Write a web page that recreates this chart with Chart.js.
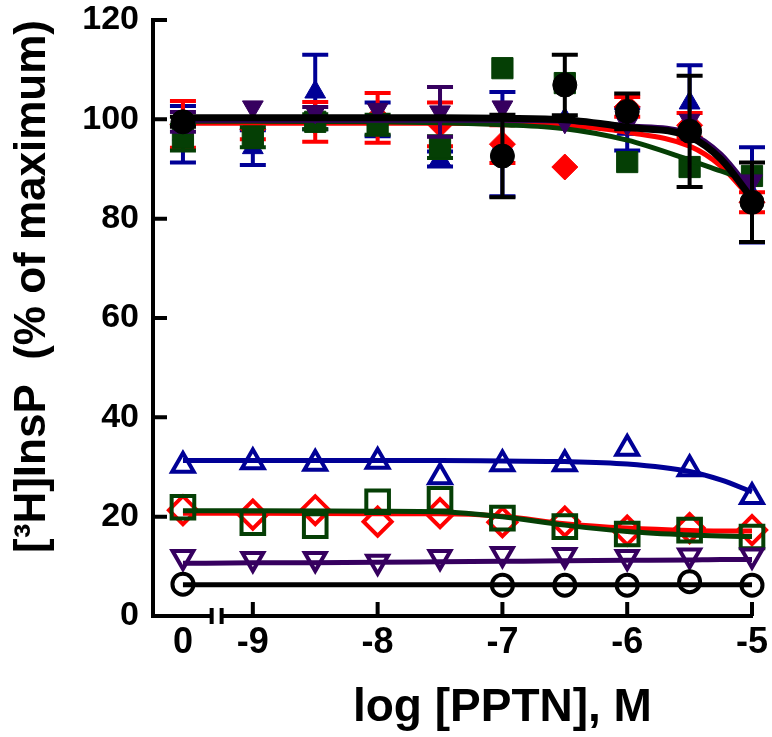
<!DOCTYPE html>
<html>
<head>
<meta charset="utf-8">
<script src="https://cdn.jsdelivr.net/npm/chart.js@4.4.1/dist/chart.umd.min.js"></script>
<style>
  body { margin: 0; background: #fff; }
  canvas { display: block; }
</style>
</head>
<body>
<canvas id="chart" width="772" height="737"></canvas>
<script>
// x positions (log M); the "0" (no PPTN) point sits left of the axis break
const zeroPos = -9.56;
const conc = [zeroPos, -9, -8.5, -8, -7.5, -7, -6.5, -6, -5.5, -5];
const xTicks = [zeroPos, -9, -8, -7, -6, -5];
const xLabels = ['0', '-9', '-8', '-7', '-6', '-5'];
const xTitle = 'log [PPTN], M';
const yTitle = '[\u00B3H]InsP  (% of maximum)';

// filled symbols (stimulated) with SEM
const blueFilled     = [97, 94.3, 105.5, 100, 92, 95, 100, 98, 103.3, 84.8];
const blueFilledErr  = [5.7, 3.5, 7.5, 3.4, 1.5, 10.5, 0, 4.3, 7.6, 9.6];
const redFilled      = [99, 98, 99.5, 100.3, 99, 95, 90.4, 102.5, 98.8, 83.3];
const redFilledErr   = [4.7, 2, 4, 5, 4.4, 3.8, 0, 2, 2.5, 2];
const greenFilled    = [96.3, 96.4, 99.5, 98.9, 94.4, 110.3, 107.3, 91.4, 90.4, 88.6];
const greenFilledErr = [2.6, 2, 1.5, 2, 2.2, 0, 0, 0, 0, 0];
const purpleFilled   = [99.5, 102.5, 101.5, 102, 101.5, 102.5, 99.5, 99, 99.8, 87.6];
const purpleFilledErr = [2, 0, 1, 0, 5, 0, 0, 0, 0, 0];
const blackFilled    = [99.5, null, null, null, null, 92.6, 106.9, 101.6, 97.6, 83.3];
const blackFilledErr = [1, null, null, null, null, 8.3, 6.1, 3.6, 11.2, 8];

// open symbols (basal)
const blueOpen   = [30.3, 31.0, 30.7, 31.1, 28.0, 30.6, 30.6, 33.7, 29.6, 24.0];
const redOpen    = [21.3, 20.4, 21.3, 19, 20.7, 18.9, 19, 17.2, 17.7, 17.3];
const greenOpen  = [21.9, 18.8, 18.2, 23, 23.5, 19.7, 18, 16.5, 17.3, 15.9];
const purpleOpen = [11.9, 11.5, 11.5, 10.9, 11.9, 12.5, 12.3, 11.9, 12.2, 12.2];
const blackOpen  = [6.4, null, null, null, null, 6.2, 6.2, 6.2, 6.9, 6.2];

// fitted curves
const fitX = [zeroPos, -9, -8, -7.5, -7, -6.5, -6, -5.5, -5.25, -5];
const blackFit      = [100.3, 100.3, 100.3, 100.3, 100.2, 99.9, 98.4, 96.5, 92, 84];
const purpleFit     = [99.8, 99.8, 99.8, 99.8, 99.8, 99.6, 98.7, 97.2, 93, 85.4];
const redFit        = [99.2, 99.2, 99.2, 99.2, 99.1, 98.8, 97.4, 94.6, 90.6, 83.8];
const greenFit      = [99.6, 99.6, 99.5, 99.3, 98.9, 98.1, 95.8, 91.8, 89.6, 87.4];
const blueOpenFit   = [31.3, 31.3, 31.3, 31.3, 31.2, 31.1, 30.6, 29.1, 27.4, 25];
const redOpenFit    = [20.7, 20.7, 20.6, 20.6, 20.1, 18.6, 17.7, 17.2, 17.1, 17.1];
const greenOpenFit  = [21.2, 21.2, 21.1, 21, 20, 18.3, 17, 16.3, 16.1, 16];
const purpleOpenFit = [10.6, 10.7, 10.8, 10.9, 11, 11.1, 11.2, 11.3, 11.4, 11.4];
const blackOpenFit  = [6.3, 6.3, 6.3, 6.3, 6.3, 6.3, 6.3, 6.3, 6.3, 6.3];

const BLUE = '#000096', RED = '#ff0000', GREEN = '#053f05', PURPLE = '#36005f', BLACK = '#000000';

// use the condensed face for the x axis text when it is installed
function hasFont(name) {
  const c = document.createElement('canvas').getContext('2d');
  c.font = 'bold 40px monospace';
  const w0 = c.measureText(xTitle).width;
  c.font = 'bold 40px "' + name + '", monospace';
  return c.measureText(xTitle).width !== w0;
}
const narrow = hasFont('Liberation Sans Narrow');
const xFamily = narrow ? '"Liberation Sans Narrow", "Liberation Sans", sans-serif' : '"Liberation Sans", sans-serif';
const xTickSize = narrow ? 43 : 36;
const xTitleSize = narrow ? 54 : 46;

function pts(xs, ys, errs) {
  return xs.map((x, i) => ({x: x, y: ys[i], err: errs ? errs[i] : 0}))
           .filter(p => p.y !== null);
}

function markers(ys, errs, color, style, radius, filled, rotation) {
  return {
    data: pts(conc, ys, errs),
    showLine: false,
    pointStyle: style,
    pointRotation: rotation || 0,
    pointRadius: radius,
    pointBackgroundColor: filled ? color : 'rgba(0,0,0,0)',
    pointBorderColor: color,
    pointBorderWidth: filled ? 1 : 4,
    borderColor: color,
    errColor: color,
    clip: false
  };
}

function fit(ys, color, width) {
  return {
    data: pts(fitX, ys),
    borderColor: color,
    borderWidth: width,
    pointRadius: 0,
    cubicInterpolationMode: 'monotone',
    fill: false,
    clip: false
  };
}

// draw error bars just before each dataset so its own symbols sit on top
const errorBars = {
  id: 'errorBars',
  beforeDatasetDraw(chart, args) {
    const ds = chart.data.datasets[args.index];
    if (!ds.errColor) return;
    const {ctx, scales: {x, y}} = chart;
    ctx.save();
    ctx.strokeStyle = ds.errColor;
    ctx.lineWidth = 4;
    ds.data.forEach(p => {
      if (!p.err) return;
      const px = x.getPixelForValue(p.x);
      const t = y.getPixelForValue(p.y + p.err);
      const b = y.getPixelForValue(p.y - p.err);
      ctx.beginPath();
      ctx.moveTo(px, t); ctx.lineTo(px, b);
      ctx.moveTo(px - 13, t); ctx.lineTo(px + 13, t);
      ctx.moveTo(px - 13, b); ctx.lineTo(px + 13, b);
      ctx.stroke();
    });
    ctx.restore();
  }
};

// inward ticks, axis break and x title
const decor = {
  id: 'decor',
  afterDraw(chart) {
    const {ctx, chartArea, scales: {x, y}} = chart;
    const left = chartArea.left, bottom = chartArea.bottom;
    ctx.save();
    ctx.strokeStyle = '#000';
    ctx.lineWidth = 4;
    ctx.beginPath();
    y.ticks.forEach(t => {
      if (t.value === 0) return;
      const py = y.getPixelForValue(t.value);
      ctx.moveTo(left, py); ctx.lineTo(left + 14, py);
    });
    x.ticks.forEach(t => {
      if (t.value === zeroPos) return;
      const px = x.getPixelForValue(t.value);
      ctx.moveTo(px, bottom); ctx.lineTo(px, bottom - 14);
    });
    ctx.stroke();

    const b1 = x.getPixelForValue(-9.33), b2 = x.getPixelForValue(-9.25);
    ctx.fillStyle = '#fff';
    ctx.fillRect(b1, bottom - 4, b2 - b1, 8);
    ctx.beginPath();
    ctx.moveTo(b1, bottom - 8); ctx.lineTo(b1, bottom + 8);
    ctx.moveTo(b2, bottom - 8); ctx.lineTo(b2, bottom + 8);
    ctx.stroke();

    ctx.fillStyle = '#000';
    ctx.font = 'bold ' + xTitleSize + 'px ' + xFamily;
    ctx.textAlign = 'center';
    ctx.textBaseline = 'alphabetic';
    const cx = (x.getPixelForValue(-9) + x.getPixelForValue(-5)) / 2;
    ctx.fillText(xTitle, cx, 721);
    ctx.restore();
  }
};

const ctx = document.getElementById('chart').getContext('2d');
new Chart(ctx, {
  type: 'line',
  data: {
    datasets: [
      fit(blackFit, BLACK, 7),
      markers(blackFilled, blackFilledErr, BLACK, 'circle', 12, true),
      fit(purpleFit, PURPLE, 5),
      markers(purpleFilled, purpleFilledErr, PURPLE, 'triangle', 12, true, 180),
      fit(greenFit, GREEN, 5),
      markers(greenFilled, greenFilledErr, GREEN, 'rect', 15, true),
      fit(redFit, RED, 5),
      markers(redFilled, redFilledErr, RED, 'rectRot', 13, true),
      markers(blueFilled, blueFilledErr, BLUE, 'triangle', 12, true),

      fit(blackOpenFit, BLACK, 5),
      markers(blackOpen, null, BLACK, 'circle', 10.5, false),
      fit(purpleOpenFit, PURPLE, 5),
      markers(purpleOpen, null, PURPLE, 'triangle', 12, false, 180),
      fit(greenOpenFit, GREEN, 5),
      markers(greenOpen, null, GREEN, 'rect', 16, false),
      fit(redOpenFit, RED, 5),
      markers(redOpen, null, RED, 'rectRot', 14, false),
      fit(blueOpenFit, BLUE, 5),
      markers(blueOpen, null, BLUE, 'triangle', 12.5, false)
    ]
  },
  options: {
    responsive: false,
    animation: false,
    layout: { padding: { left: 2, right: 20, top: 20, bottom: 0 } },
    plugins: { legend: { display: false }, tooltip: { enabled: false } },
    scales: {
      x: {
        type: 'linear',
        min: -9.8,
        max: -5,
        afterBuildTicks: scale => { scale.ticks = xTicks.map(v => ({ value: v })); },
        afterFit: scale => {
          scale.height = 121;
          scale.paddingLeft = 0; scale.paddingRight = 0;
        },
        grid: { display: false, drawTicks: false },
        border: { display: true, color: '#000', width: 4 },
        ticks: {
          autoSkip: false,
          maxRotation: 0,
          padding: 5,
          color: '#000',
          font: { family: xFamily, size: xTickSize, weight: 'bold' },
          callback: (v, i) => xLabels[i]
        }
      },
      y: {
        min: 0,
        max: 120,
        afterFit: scale => {
          scale.width = 151;
          scale.paddingTop = 0; scale.paddingBottom = 0;
        },
        grid: { display: false, drawTicks: false },
        border: { display: true, color: '#000', width: 4 },
        ticks: {
          stepSize: 20,
          padding: 14,
          color: '#000',
          font: { family: '"Liberation Sans", sans-serif', size: 34, weight: 'bold' }
        },
        title: {
          display: true,
          text: yTitle,
          align: 'end',
          color: '#000',
          padding: { top: 4, bottom: 0 },
          font: { family: '"Liberation Sans", sans-serif', size: 44, weight: 'bold' }
        }
      }
    }
  },
  plugins: [errorBars, decor]
});
</script>
</body>
</html>
